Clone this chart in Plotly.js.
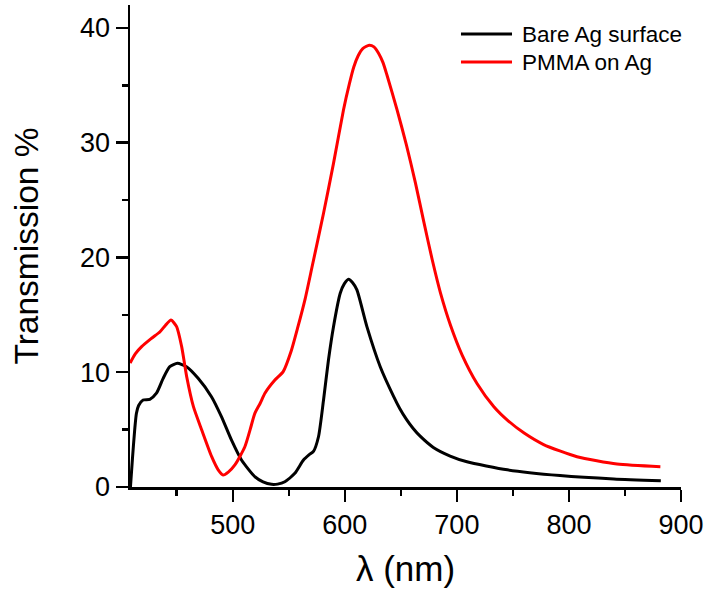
<!DOCTYPE html>
<html>
<head>
<meta charset="utf-8">
<script src="https://cdn.plot.ly/plotly-3.0.1.min.js"></script>
<style>html,body{margin:0;padding:0;background:#fff;}#chart{width:706px;height:592px;}</style>
</head>
<body>
<div id="chart"></div>
<script>
// ---- data ----
var seriesNames = ["Bare Ag surface", "PMMA on Ag"];
var seriesColors = ["#000000", "#ff0000"];

var bareWavelength = [408.7, 410.5, 412.5, 414, 416, 420, 426, 431.9, 437.9, 443.8, 450.6, 458.7, 469.1, 481, 489.9, 498.8, 507.8, 519.7, 527, 534.6, 540, 546.5, 555.4, 563.1, 568, 572, 576.5, 581, 585.4, 589.9, 595.9, 599.5, 603.3, 607, 610.8, 619.7, 631.6, 643.5, 649, 655, 661, 667, 679, 694, 709, 745, 792, 840, 882];
var bareTransmission = [0, 2.5, 5.0, 6.4, 7.1, 7.58, 7.64, 8.17, 9.47, 10.48, 10.78, 10.48, 9.47, 7.87, 6.13, 4.1, 2.35, 0.9, 0.45, 0.23, 0.25, 0.46, 1.19, 2.35, 2.8, 3.1, 4.38, 7.58, 11.07, 13.97, 16.88, 17.7, 18.1, 17.8, 17.17, 13.97, 10.48, 7.9, 6.85, 5.9, 5.1, 4.45, 3.45, 2.7, 2.2, 1.5, 1.0, 0.7, 0.55];

var pmmaWavelength = [408.4, 413, 418.7, 427.6, 435.1, 440, 444.9, 449.9, 454.4, 458.9, 464.9, 472.3, 481.2, 487, 491.4, 496, 501.9, 510.8, 515.5, 519.7, 524.5, 528.7, 537.6, 545, 552, 558, 564.6, 570.6, 581, 589.9, 598.8, 604, 608, 612, 616, 621.8, 626, 630.1, 634, 637.6, 646.5, 655, 663, 670.5, 678, 685.4, 694.3, 704.7, 718.1, 733, 746, 760, 777.4, 807.2, 842.9, 881.6];
var pmmaTransmission = [10.8, 11.6, 12.23, 12.96, 13.53, 14.1, 14.55, 13.97, 12.23, 9.61, 7.0, 4.97, 2.64, 1.5, 1.05, 1.3, 1.92, 3.51, 5.0, 6.42, 7.3, 8.17, 9.32, 10.05, 11.8, 13.9, 16.4, 19.1, 23.85, 28.2, 32.85, 35.1, 36.6, 37.6, 38.2, 38.5, 38.35, 37.8, 37.0, 35.9, 32.9, 29.8, 26.5, 23.1, 19.8, 16.9, 14.1, 11.5, 9.0, 7.0, 5.75, 4.7, 3.7, 2.64, 2.0, 1.77];

var xTickValues = [500, 600, 700, 800, 900];
var yTickValues = [0, 10, 20, 30, 40];

// ---- chart ----
var FONT = "Liberation Sans, Arial, Helvetica, sans-serif";

var traces = [
  {x: bareWavelength, y: bareTransmission, name: seriesNames[0], mode: "lines",
   line: {color: seriesColors[0], width: 3, shape: "spline", smoothing: 0.6}},
  {x: pmmaWavelength, y: pmmaTransmission, name: seriesNames[1], mode: "lines",
   line: {color: seriesColors[1], width: 3, shape: "spline", smoothing: 0.6}}
];

// legend drawn as shapes + annotations
var legendRowsY = [0.9398, 0.8817];
var shapes = [], annotations = [];
for (var i = 0; i < seriesNames.length; i++) {
  shapes.push({type: "line", xref: "paper", yref: "paper",
    x0: 0.6007, x1: 0.6933, y0: legendRowsY[i], y1: legendRowsY[i],
    line: {color: seriesColors[i], width: 3}});
  annotations.push({xref: "paper", yref: "paper", x: 0.7078, y: legendRowsY[i],
    xanchor: "left", yanchor: "middle", showarrow: false, text: seriesNames[i],
    font: {family: FONT, size: 22.5, color: "#000"}});
}

var layout = {
  width: 706, height: 592,
  margin: {l: 130, r: 25, t: 5, b: 105},
  paper_bgcolor: "#fff", plot_bgcolor: "#fff",
  showlegend: false,
  font: {family: FONT, color: "#000"},
  xaxis: {
    range: [408.3, 900], tickvals: xTickValues, ticktext: xTickValues.map(String),
    showgrid: false, zeroline: false, showline: true, linecolor: "#000", linewidth: 2.5,
    ticks: "outside", ticklen: 12, tickwidth: 2.5, tickcolor: "#000",
    tickfont: {family: FONT, size: 27, color: "#000"},
    minor: {dtick: 50, tick0: 0, ticks: "outside", ticklen: 6, tickwidth: 2.5, tickcolor: "#000", showgrid: false},
    title: {text: "λ (nm)", font: {family: FONT, size: 35, color: "#000"}, standoff: 18}
  },
  yaxis: {
    range: [0, 42], tickvals: yTickValues, ticktext: yTickValues.map(String),
    showgrid: false, zeroline: false, showline: true, linecolor: "#000", linewidth: 2.5,
    ticks: "outside", ticklen: 12, tickwidth: 2.5, tickcolor: "#000",
    tickfont: {family: FONT, size: 27, color: "#000"},
    minor: {dtick: 5, tick0: 0, ticks: "outside", ticklen: 6, tickwidth: 2.5, tickcolor: "#000", showgrid: false},
    title: {text: "Transmission %", font: {family: FONT, size: 33.5, color: "#000"}, standoff: 32}
  },
  shapes: shapes,
  annotations: annotations
};

Plotly.newPlot("chart", traces, layout, {staticPlot: true, displayModeBar: false});
</script>
</body>
</html>
